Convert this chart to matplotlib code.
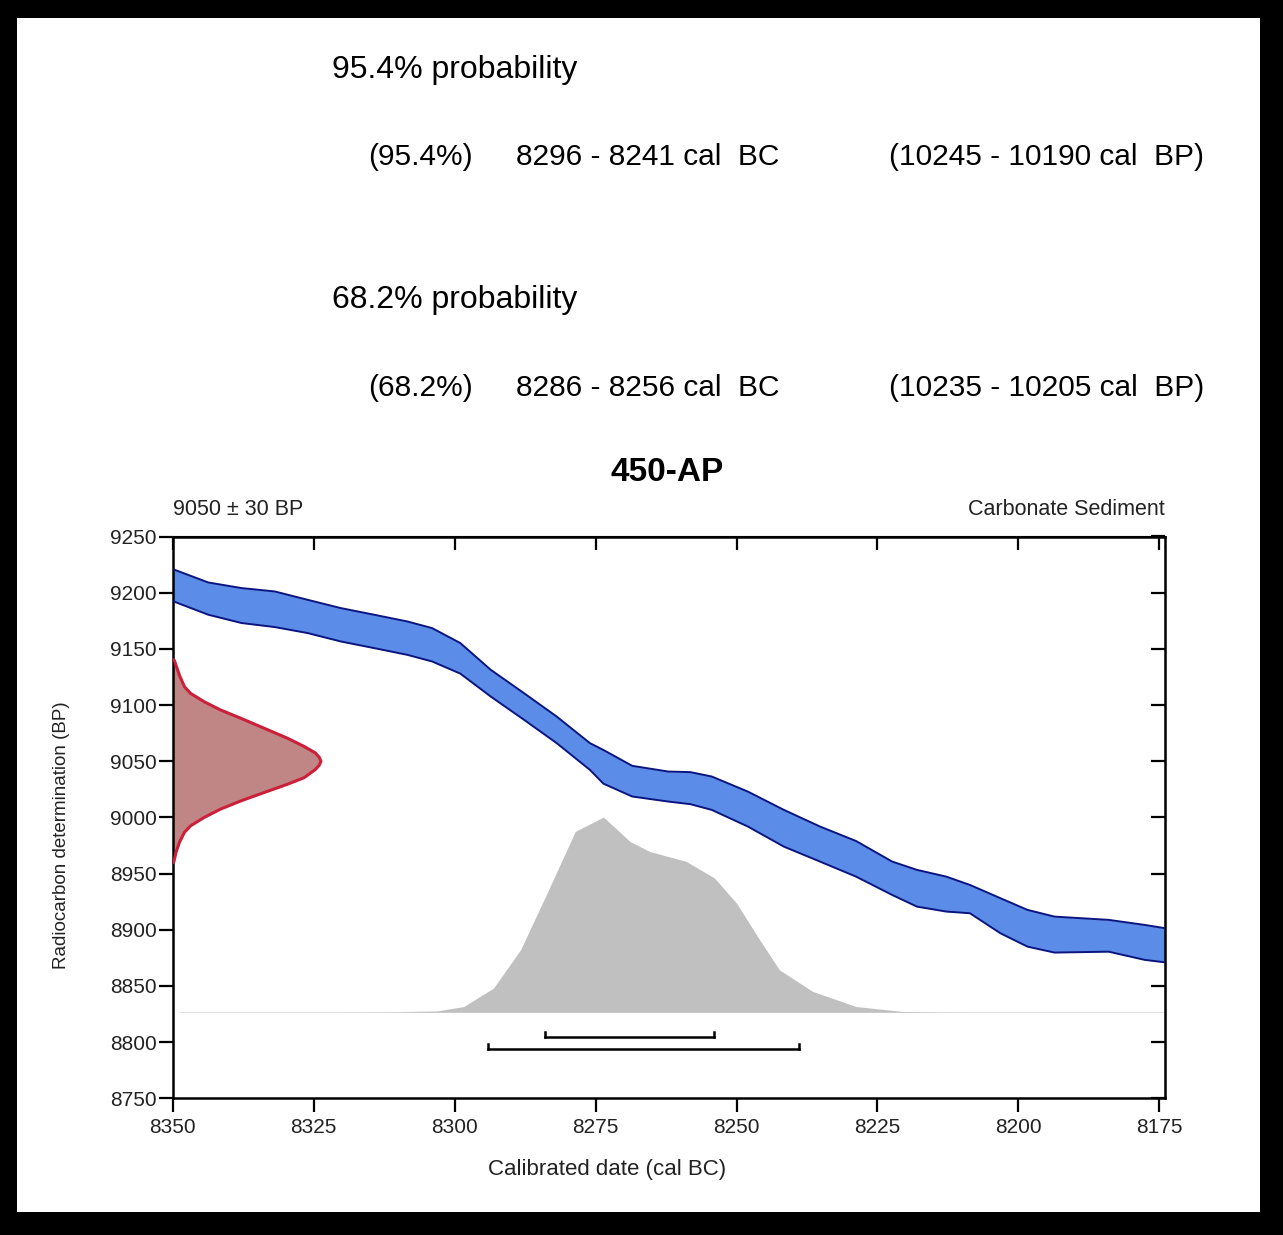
import matplotlib
matplotlib.use('Agg')
import matplotlib.pyplot as plt
from matplotlib.patches import Rectangle

plt.rcParams['font.family'] = ['Liberation Sans', 'DejaVu Sans']

# calibration curve band (cal BC -> BP), upper and lower edges
curve_year = [8350, 8343.7, 8337.8, 8331.9, 8326.1, 8320.2, 8314.3, 8308.4, 8304.0,
              8299.0, 8293.6, 8287.7, 8281.9, 8276.0, 8273.6, 8268.5, 8262.1, 8258.2,
              8254.4, 8248.0, 8241.6, 8235.2, 8228.8, 8222.4, 8218.0, 8212.8, 8208.6,
              8203.2, 8198.4, 8193.6, 8184.0, 8177.6, 8174.0]
curve_upper = [9221, 9209.1, 9204.1, 9201.1, 9193.7, 9186.3, 9180.4, 9174.4, 9168.5,
               9155.2, 9131.4, 9110.6, 9089.8, 9066.1, 9060.0, 9045.9, 9040.8, 9040.3,
               9036.4, 9023.0, 9006.7, 8991.9, 8979.0, 8960.7, 8953.3, 8947.3, 8939.9,
               8928.1, 8917.7, 8911.7, 8908.8, 8904.3, 8901.4]
curve_lower = [9192.5, 9180.4, 9173.0, 9169.4, 9164.1, 9156.6, 9150.7, 9144.7, 9138.8,
               9128.0, 9107.6, 9086.9, 9066.1, 9042.3, 9030.0, 9018.6, 9014.1, 9011.8,
               9006.7, 8991.9, 8974.0, 8960.7, 8947.3, 8931.0, 8920.6, 8916.2, 8914.7,
               8896.9, 8885.0, 8879.7, 8880.5, 8873.2, 8871.0]

# radiocarbon measurement 9050 +- 30 BP, width in years from the left edge
date_bp = [9140.5, 9139.7, 9126.5, 9116.2, 9110.3, 9102.9, 9095.6, 9088.2, 9079.4,
           9070.6, 9063.2, 9057.4, 9053.5, 9050.0, 9046.5, 9042.6, 9035.3, 9029.4,
           9022.1, 9014.7, 9007.4, 9000.0, 8992.6, 8986.8, 8977.9, 8969.1, 8960.3, 8959.5]
date_width = [0, 0.3, 1.2, 2.1, 3.2, 5.6, 8.5, 12.1, 16.2,
              20.3, 23.3, 25.3, 26.0, 26.3, 26.0, 25.3, 23.3, 20.3,
              16.2, 12.1, 8.5, 5.6, 3.2, 2.1, 1.2, 0.6, 0.2, 0]

# calibrated date probability, height in BP units above the baseline
prob_base = 8826.5
prob_year = [8349, 8320, 8310, 8303.1, 8298.4, 8293.1, 8288.3, 8283.6, 8278.6, 8273.6,
             8268.9, 8265.4, 8258.9, 8253.9, 8250.0, 8245.9, 8242.4, 8236.5, 8228.8,
             8220.6, 8210, 8174]
prob_height = [0.4, 0.4, 0.6, 1.3, 5.1, 21.6, 55.7, 106.2, 161.0, 173.8, 152.1, 143.2,
               134.3, 119.5, 97.2, 64.6, 37.9, 18.6, 5.2, 0.8, 0.4, 0.4]

# highest probability ranges (bars under the distribution)
range_68 = (8284, 8254)
range_95 = (8294, 8239)
bar_bp = (8804.3, 8793.6)

x_ticks = [8350, 8325, 8300, 8275, 8250, 8225, 8200, 8175]
y_ticks = [8750, 8800, 8850, 8900, 8950, 9000, 9050, 9100, 9150, 9200, 9250]

W, H = 1283, 1235
fig = plt.figure(figsize=(W / 100, H / 100), dpi=100, facecolor='black')
fig.patches.append(Rectangle((17 / W, 1 - 1212 / H), (1260 - 17) / W, (1212 - 18) / H,
                             transform=fig.transFigure, facecolor='white',
                             edgecolor='none', zorder=-5))


def fx(px):
    return px / W


def fy(py):
    return 1 - py / H


# text block at the top
fig.text(fx(332), fy(78), '95.4% probability', fontsize=23, va='baseline')
fig.text(fx(368), fy(165), '(95.4%)', fontsize=21.5, va='baseline')
fig.text(fx(516), fy(165), '8296 - 8241 cal  BC', fontsize=21.5, va='baseline')
fig.text(fx(889), fy(165), '(10245 - 10190 cal  BP)', fontsize=21.5, va='baseline')
fig.text(fx(332), fy(308), '68.2% probability', fontsize=23, va='baseline')
fig.text(fx(368), fy(396), '(68.2%)', fontsize=21.5, va='baseline')
fig.text(fx(516), fy(396), '8286 - 8256 cal  BC', fontsize=21.5, va='baseline')
fig.text(fx(889), fy(396), '(10235 - 10205 cal  BP)', fontsize=21.5, va='baseline')

fig.text(fx(667), fy(481), '450-AP', fontsize=24, fontweight='bold', ha='center', va='baseline')
fig.text(fx(173), fy(515), '9050 \u00b1 30 BP', fontsize=15.5, va='baseline', color='#222222')
fig.text(fx(1165), fy(515), 'Carbonate Sediment', fontsize=15.5, ha='right', va='baseline',
         color='#222222')

ax = fig.add_axes([fx(172.7), fy(1098.3), (1165 - 172.7) / W, (1098.3 - 536.5) / H])
ax.set_xlim(8350, 8174)
ax.set_ylim(8750, 9250)
ax.set_facecolor('white')

# calibration curve
ax.fill_between(curve_year, curve_lower, curve_upper, color='#5b8ce8', lw=0, zorder=2)
ax.plot(curve_year, curve_upper, color='#0b1580', lw=1.4, zorder=3, solid_joinstyle='round')
ax.plot(curve_year, curve_lower, color='#0b1580', lw=1.4, zorder=3, solid_joinstyle='round')

# measurement distribution on the y axis
x_left = ax.get_xlim()[0]
date_x = [x_left - w for w in date_width]
ax.fill_betweenx(date_bp, x_left, date_x, color='#c08585', lw=0, zorder=2)
ax.plot(date_x, date_bp, color='#cc1f3a', lw=2.2, zorder=3, solid_capstyle='round',
        solid_joinstyle='round')

# calibrated distribution
prob_top = [prob_base + h for h in prob_height]
ax.fill_between(prob_year, prob_base, prob_top, color='#c0c0c0', lw=0, zorder=1)

# range bars
for rng, yb in zip((range_68, range_95), bar_bp):
    ax.plot(rng, [yb, yb], color='black', lw=1.8, zorder=4)
    for xe in rng:
        ax.plot([xe, xe], [yb, yb + 5], color='black', lw=1.8, zorder=4)

ax.set_xticks(x_ticks)
ax.set_yticks(y_ticks)
ax.tick_params(direction='out', length=10, width=1.6, labelsize=15, colors='black',
               labelcolor='#222222')
ax.tick_params(axis='y', pad=1.5)
ax.tick_params(axis='x', pad=4)
for sp in ax.spines.values():
    sp.set_linewidth(1.8)

top = ax.secondary_xaxis('top')
top.set_xticks(x_ticks)
top.tick_params(direction='in', length=10, width=1.6, labeltop=False)
right = ax.secondary_yaxis('right')
right.set_yticks(y_ticks)
right.tick_params(direction='in', length=10, width=1.6, labelright=False)

fig.text(fx(607), fy(1175), 'Calibrated date (cal BC)', fontsize=16, ha='center',
         va='baseline', color='#222222')
fig.text(fx(62), fy(835), 'Radiocarbon determination (BP)', fontsize=13.5, rotation=90,
         ha='center', va='center', color='#222222')

fig.savefig('out.png', dpi=100, facecolor='black')
